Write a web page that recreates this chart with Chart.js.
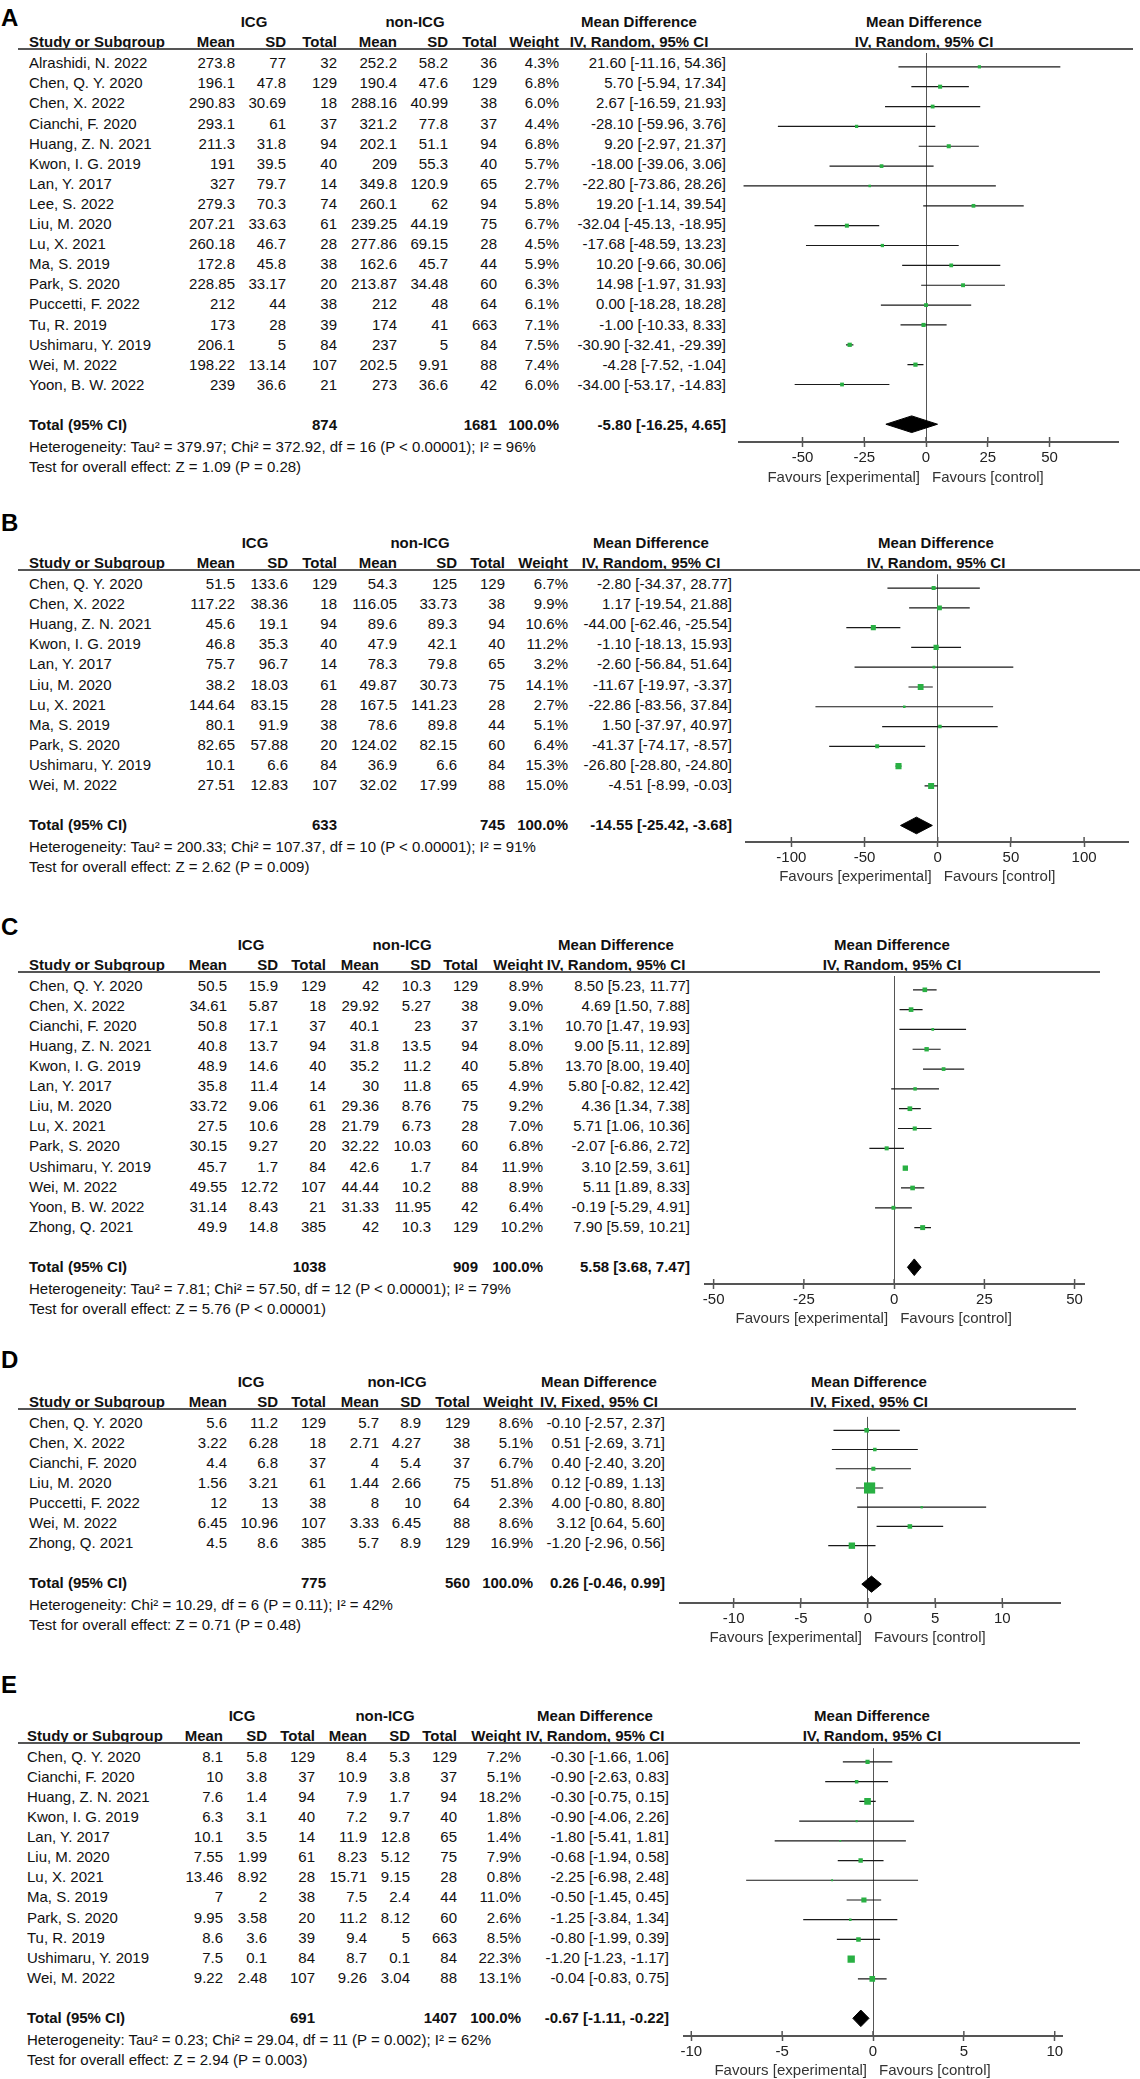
<!DOCTYPE html>
<html>
<head>
<meta charset="utf-8">
<title>ICG vs non-ICG forest plots</title>
<script src="https://cdn.jsdelivr.net/npm/chart.js@4.4.1/dist/chart.umd.min.js"></script>
<style>
  html, body { margin: 0; padding: 0; background: #fff; }
  body { position: relative; width: 1140px; height: 2079px; overflow: hidden;
         font-family: "Liberation Sans", Arial, sans-serif; color: #111; }
  .cell { position: absolute; white-space: nowrap; font-size: 15px; line-height: 18px; }
  .b { font-weight: bold; }
  .fav { color: #333; }
  .letter { position: absolute; left: 1px; font-size: 24px; font-weight: bold; line-height: 28px; color: #000; }
  .rule { position: absolute; height: 2px; background: #555; }
  canvas { position: absolute; }
</style>
</head>
<body>
<script>
// ---------- Panel A ----------
const studiesA = ['Alrashidi, N. 2022', 'Chen, Q. Y. 2020', 'Chen, X. 2022', 'Cianchi, F. 2020', 'Huang, Z. N. 2021',
  'Kwon, I. G. 2019', 'Lan, Y. 2017', 'Lee, S. 2022', 'Liu, M. 2020', 'Lu, X. 2021', 'Ma, S. 2019', 'Park, S. 2020',
  'Puccetti, F. 2022', 'Tu, R. 2019', 'Ushimaru, Y. 2019', 'Wei, M. 2022', 'Yoon, B. W. 2022'];
const icgMeanA = [273.8, 196.1, 290.83, 293.1, 211.3, 191, 327, 279.3, 207.21, 260.18, 172.8, 228.85, 212, 173, 206.1, 198.22, 239];
const icgSdA = [77, 47.8, 30.69, 61, 31.8, 39.5, 79.7, 70.3, 33.63, 46.7, 45.8, 33.17, 44, 28, 5, 13.14, 36.6];
const icgNA = [32, 129, 18, 37, 94, 40, 14, 74, 61, 28, 38, 20, 38, 39, 84, 107, 21];
const ctrlMeanA = [252.2, 190.4, 288.16, 321.2, 202.1, 209, 349.8, 260.1, 239.25, 277.86, 162.6, 213.87, 212, 174, 237, 202.5, 273];
const ctrlSdA = [58.2, 47.6, 40.99, 77.8, 51.1, 55.3, 120.9, 62, 44.19, 69.15, 45.7, 34.48, 48, 41, 5, 9.91, 36.6];
const ctrlNA = [36, 129, 38, 37, 94, 40, 65, 94, 75, 28, 44, 60, 64, 663, 84, 88, 42];
const weightA = [4.3, 6.8, 6.0, 4.4, 6.8, 5.7, 2.7, 5.8, 6.7, 4.5, 5.9, 6.3, 6.1, 7.1, 7.5, 7.4, 6.0];
const mdA = [21.60, 5.70, 2.67, -28.10, 9.20, -18.00, -22.80, 19.20, -32.04, -17.68, 10.20, 14.98, 0.00, -1.00, -30.90, -4.28, -34.00];
const lowerA = [-11.16, -5.94, -16.59, -59.96, -2.97, -39.06, -73.86, -1.14, -45.13, -48.59, -9.66, -1.97, -18.28, -10.33, -32.41, -7.52, -53.17];
const upperA = [54.36, 17.34, 21.93, 3.76, 21.37, 3.06, 28.26, 39.54, -18.95, 13.23, 30.06, 31.93, 18.28, 8.33, -29.39, -1.04, -14.83];
const totalsA = [874, 1681];
const pooledA = [-5.80, -16.25, 4.65];
const ticksA = [-50, -25, 0, 25, 50];
const hetA = 'Heterogeneity: Tau\u00b2 = 379.97; Chi\u00b2 = 372.92, df = 16 (P < 0.00001); I\u00b2 = 96%';
const testA = 'Test for overall effect: Z = 1.09 (P = 0.28)';

// ---------- Panel B ----------
const studiesB = ['Chen, Q. Y. 2020', 'Chen, X. 2022', 'Huang, Z. N. 2021', 'Kwon, I. G. 2019', 'Lan, Y. 2017', 'Liu, M. 2020',
  'Lu, X. 2021', 'Ma, S. 2019', 'Park, S. 2020', 'Ushimaru, Y. 2019', 'Wei, M. 2022'];
const icgMeanB = [51.5, 117.22, 45.6, 46.8, 75.7, 38.2, 144.64, 80.1, 82.65, 10.1, 27.51];
const icgSdB = [133.6, 38.36, 19.1, 35.3, 96.7, 18.03, 83.15, 91.9, 57.88, 6.6, 12.83];
const icgNB = [129, 18, 94, 40, 14, 61, 28, 38, 20, 84, 107];
const ctrlMeanB = [54.3, 116.05, 89.6, 47.9, 78.3, 49.87, 167.5, 78.6, 124.02, 36.9, 32.02];
const ctrlSdB = [125, 33.73, 89.3, 42.1, 79.8, 30.73, 141.23, 89.8, 82.15, 6.6, 17.99];
const ctrlNB = [129, 38, 94, 40, 65, 75, 28, 44, 60, 84, 88];
const weightB = [6.7, 9.9, 10.6, 11.2, 3.2, 14.1, 2.7, 5.1, 6.4, 15.3, 15.0];
const mdB = [-2.80, 1.17, -44.00, -1.10, -2.60, -11.67, -22.86, 1.50, -41.37, -26.80, -4.51];
const lowerB = [-34.37, -19.54, -62.46, -18.13, -56.84, -19.97, -83.56, -37.97, -74.17, -28.80, -8.99];
const upperB = [28.77, 21.88, -25.54, 15.93, 51.64, -3.37, 37.84, 40.97, -8.57, -24.80, -0.03];
const totalsB = [633, 745];
const pooledB = [-14.55, -25.42, -3.68];
const ticksB = [-100, -50, 0, 50, 100];
const hetB = 'Heterogeneity: Tau\u00b2 = 200.33; Chi\u00b2 = 107.37, df = 10 (P < 0.00001); I\u00b2 = 91%';
const testB = 'Test for overall effect: Z = 2.62 (P = 0.009)';

// ---------- Panel C ----------
const studiesC = ['Chen, Q. Y. 2020', 'Chen, X. 2022', 'Cianchi, F. 2020', 'Huang, Z. N. 2021', 'Kwon, I. G. 2019', 'Lan, Y. 2017',
  'Liu, M. 2020', 'Lu, X. 2021', 'Park, S. 2020', 'Ushimaru, Y. 2019', 'Wei, M. 2022', 'Yoon, B. W. 2022', 'Zhong, Q. 2021'];
const icgMeanC = [50.5, 34.61, 50.8, 40.8, 48.9, 35.8, 33.72, 27.5, 30.15, 45.7, 49.55, 31.14, 49.9];
const icgSdC = [15.9, 5.87, 17.1, 13.7, 14.6, 11.4, 9.06, 10.6, 9.27, 1.7, 12.72, 8.43, 14.8];
const icgNC = [129, 18, 37, 94, 40, 14, 61, 28, 20, 84, 107, 21, 385];
const ctrlMeanC = [42, 29.92, 40.1, 31.8, 35.2, 30, 29.36, 21.79, 32.22, 42.6, 44.44, 31.33, 42];
const ctrlSdC = [10.3, 5.27, 23, 13.5, 11.2, 11.8, 8.76, 6.73, 10.03, 1.7, 10.2, 11.95, 10.3];
const ctrlNC = [129, 38, 37, 94, 40, 65, 75, 28, 60, 84, 88, 42, 129];
const weightC = [8.9, 9.0, 3.1, 8.0, 5.8, 4.9, 9.2, 7.0, 6.8, 11.9, 8.9, 6.4, 10.2];
const mdC = [8.50, 4.69, 10.70, 9.00, 13.70, 5.80, 4.36, 5.71, -2.07, 3.10, 5.11, -0.19, 7.90];
const lowerC = [5.23, 1.50, 1.47, 5.11, 8.00, -0.82, 1.34, 1.06, -6.86, 2.59, 1.89, -5.29, 5.59];
const upperC = [11.77, 7.88, 19.93, 12.89, 19.40, 12.42, 7.38, 10.36, 2.72, 3.61, 8.33, 4.91, 10.21];
const totalsC = [1038, 909];
const pooledC = [5.58, 3.68, 7.47];
const ticksC = [-50, -25, 0, 25, 50];
const hetC = 'Heterogeneity: Tau\u00b2 = 7.81; Chi\u00b2 = 57.50, df = 12 (P < 0.00001); I\u00b2 = 79%';
const testC = 'Test for overall effect: Z = 5.76 (P < 0.00001)';

// ---------- Panel D ----------
const studiesD = ['Chen, Q. Y. 2020', 'Chen, X. 2022', 'Cianchi, F. 2020', 'Liu, M. 2020', 'Puccetti, F. 2022', 'Wei, M. 2022', 'Zhong, Q. 2021'];
const icgMeanD = [5.6, 3.22, 4.4, 1.56, 12, 6.45, 4.5];
const icgSdD = [11.2, 6.28, 6.8, 3.21, 13, 10.96, 8.6];
const icgND = [129, 18, 37, 61, 38, 107, 385];
const ctrlMeanD = [5.7, 2.71, 4, 1.44, 8, 3.33, 5.7];
const ctrlSdD = [8.9, 4.27, 5.4, 2.66, 10, 6.45, 8.9];
const ctrlND = [129, 38, 37, 75, 64, 88, 129];
const weightD = [8.6, 5.1, 6.7, 51.8, 2.3, 8.6, 16.9];
const mdD = [-0.10, 0.51, 0.40, 0.12, 4.00, 3.12, -1.20];
const lowerD = [-2.57, -2.69, -2.40, -0.89, -0.80, 0.64, -2.96];
const upperD = [2.37, 3.71, 3.20, 1.13, 8.80, 5.60, 0.56];
const totalsD = [775, 560];
const pooledD = [0.26, -0.46, 0.99];
const ticksD = [-10, -5, 0, 5, 10];
const hetD = 'Heterogeneity: Chi\u00b2 = 10.29, df = 6 (P = 0.11); I\u00b2 = 42%';
const testD = 'Test for overall effect: Z = 0.71 (P = 0.48)';

// ---------- Panel E ----------
const studiesE = ['Chen, Q. Y. 2020', 'Cianchi, F. 2020', 'Huang, Z. N. 2021', 'Kwon, I. G. 2019', 'Lan, Y. 2017', 'Liu, M. 2020',
  'Lu, X. 2021', 'Ma, S. 2019', 'Park, S. 2020', 'Tu, R. 2019', 'Ushimaru, Y. 2019', 'Wei, M. 2022'];
const icgMeanE = [8.1, 10, 7.6, 6.3, 10.1, 7.55, 13.46, 7, 9.95, 8.6, 7.5, 9.22];
const icgSdE = [5.8, 3.8, 1.4, 3.1, 3.5, 1.99, 8.92, 2, 3.58, 3.6, 0.1, 2.48];
const icgNE = [129, 37, 94, 40, 14, 61, 28, 38, 20, 39, 84, 107];
const ctrlMeanE = [8.4, 10.9, 7.9, 7.2, 11.9, 8.23, 15.71, 7.5, 11.2, 9.4, 8.7, 9.26];
const ctrlSdE = [5.3, 3.8, 1.7, 9.7, 12.8, 5.12, 9.15, 2.4, 8.12, 5, 0.1, 3.04];
const ctrlNE = [129, 37, 94, 40, 65, 75, 28, 44, 60, 663, 84, 88];
const weightE = [7.2, 5.1, 18.2, 1.8, 1.4, 7.9, 0.8, 11.0, 2.6, 8.5, 22.3, 13.1];
const mdE = [-0.30, -0.90, -0.30, -0.90, -1.80, -0.68, -2.25, -0.50, -1.25, -0.80, -1.20, -0.04];
const lowerE = [-1.66, -2.63, -0.75, -4.06, -5.41, -1.94, -6.98, -1.45, -3.84, -1.99, -1.23, -0.83];
const upperE = [1.06, 0.83, 0.15, 2.26, 1.81, 0.58, 2.48, 0.45, 1.34, 0.39, -1.17, 0.75];
const totalsE = [691, 1407];
const pooledE = [-0.67, -1.11, -0.22];
const ticksE = [-10, -5, 0, 5, 10];
const hetE = 'Heterogeneity: Tau\u00b2 = 0.23; Chi\u00b2 = 29.04, df = 11 (P = 0.002); I\u00b2 = 62%';
const testE = 'Test for overall effect: Z = 2.94 (P = 0.003)';

// ---------- layout (pixel geometry of each panel, not data) ----------
const STEP = 20.1;     // row pitch
const PADX = 30;       // canvas side padding
const AXIS_H = 28;     // room under the axis line for tick labels

const panels = [
  { letter: 'A', method: 'IV, Random, 95% CI', studies: studiesA, cells: [icgMeanA, icgSdA, icgNA, ctrlMeanA, ctrlSdA, ctrlNA],
    weight: weightA, md: mdA, lower: lowerA, upper: upperA, totals: totalsA, pooled: pooledA, ticks: ticksA, het: hetA, test: testA,
    geom: { letterY: 18, row0: 63.2, axisY: 443, left: 29, cols: [235, 286, 337, 397, 448, 497, 559, 726], icg: 254, ctrl: 415,
      md: 639, plot: 924, axisL: 739, axisR: 1118, min: -75.7, max: 77.7, ruleEnd: 1133 } },
  { letter: 'B', method: 'IV, Random, 95% CI', studies: studiesB, cells: [icgMeanB, icgSdB, icgNB, ctrlMeanB, ctrlSdB, ctrlNB],
    weight: weightB, md: mdB, lower: lowerB, upper: upperB, totals: totalsB, pooled: pooledB, ticks: ticksB, het: hetB, test: testB,
    geom: { letterY: 523, row0: 584, axisY: 842, left: 29, cols: [235, 288, 337, 397, 457, 505, 568, 732], icg: 255, ctrl: 420,
      md: 651, plot: 936, axisL: 746, axisR: 1128, min: -131, max: 130, ruleEnd: 1140 } },
  { letter: 'C', method: 'IV, Random, 95% CI', studies: studiesC, cells: [icgMeanC, icgSdC, icgNC, ctrlMeanC, ctrlSdC, ctrlNC],
    weight: weightC, md: mdC, lower: lowerC, upper: upperC, totals: totalsC, pooled: pooledC, ticks: ticksC, het: hetC, test: testC,
    geom: { letterY: 927, row0: 985.6, axisY: 1284, left: 29, cols: [227, 278, 326, 379, 431, 478, 543, 690], icg: 251, ctrl: 402,
      md: 616, plot: 892, axisL: 705, axisR: 1084, min: -52.4, max: 52.6, ruleEnd: 1100 } },
  { letter: 'D', method: 'IV, Fixed, 95% CI', studies: studiesD, cells: [icgMeanD, icgSdD, icgND, ctrlMeanD, ctrlSdD, ctrlND],
    weight: weightD, md: mdD, lower: lowerD, upper: upperD, totals: totalsD, pooled: pooledD, ticks: ticksD, het: hetD, test: testD,
    geom: { letterY: 1360, row0: 1422.5, axisY: 1603, left: 29, cols: [227, 278, 326, 379, 421, 470, 533, 665], icg: 251, ctrl: 397,
      md: 599, plot: 869, axisL: 680, axisR: 1060, min: -14.0, max: 14.3, ruleEnd: 1076 } },
  { letter: 'E', method: 'IV, Random, 95% CI', studies: studiesE, cells: [icgMeanE, icgSdE, icgNE, ctrlMeanE, ctrlSdE, ctrlNE],
    weight: weightE, md: mdE, lower: lowerE, upper: upperE, totals: totalsE, pooled: pooledE, ticks: ticksE, het: hetE, test: testE,
    geom: { letterY: 1685, row0: 1756.7, axisY: 2036, left: 27, cols: [223, 267, 315, 367, 410, 457, 521, 669], icg: 242, ctrl: 385,
      md: 595, plot: 872, axisL: 684, axisR: 1062, min: -10.4, max: 10.4, ruleEnd: 1080 } }
];

function addText(txt, x, y, align, cls) {
  const d = document.createElement('div');
  d.className = 'cell' + (cls ? ' ' + cls : '');
  d.textContent = txt;
  d.style.left = x + 'px';
  d.style.top = (y - 9) + 'px';
  if (align === 'right') d.style.transform = 'translateX(-100%)';
  else if (align === 'center') d.style.transform = 'translateX(-50%)';
  document.body.appendChild(d);
  return d;
}

function ciLabel(md, lo, hi) {
  return md.toFixed(2) + ' [' + lo.toFixed(2) + ', ' + hi.toFixed(2) + ']';
}

// small tick marks that poke up through the axis line, like RevMan draws them
const tickUp = {
  id: 'tickUp',
  afterDraw(chart) {
    const sc = chart.scales.x;
    const ctx = chart.ctx;
    const y = chart.chartArea.bottom;
    ctx.save();
    ctx.strokeStyle = '#555';
    ctx.lineWidth = 1.5;
    sc.ticks.forEach(t => {
      const px = sc.getPixelForValue(t.value);
      ctx.beginPath();
      ctx.moveTo(px, y - 5);
      ctx.lineTo(px, y);
      ctx.stroke();
    });
    ctx.restore();
  }
};

function drawPanel(p) {
  const g = p.geom;
  const n = p.studies.length;
  const h1 = g.row0 - 41, h2 = g.row0 - 21, ruleY = g.row0 - 14;
  const totalRow = n + 1;
  const totalY = g.row0 + totalRow * STEP;

  const L = document.createElement('div');
  L.className = 'letter';
  L.textContent = p.letter;
  L.style.top = (g.letterY - 14) + 'px';
  document.body.appendChild(L);

  // header
  addText('ICG', g.icg, h1, 'center', 'b');
  addText('non-ICG', g.ctrl, h1, 'center', 'b');
  addText('Mean Difference', g.md, h1, 'center', 'b');
  addText('Mean Difference', g.plot, h1, 'center', 'b');
  addText('Study or Subgroup', g.left, h2, 'left', 'b');
  ['Mean', 'SD', 'Total', 'Mean', 'SD', 'Total', 'Weight'].forEach((h, k) => addText(h, g.cols[k], h2, 'right', 'b'));
  addText(p.method, g.md, h2, 'center', 'b');
  addText(p.method, g.plot, h2, 'center', 'b');

  const r = document.createElement('div');
  r.className = 'rule';
  r.style.left = '18px';
  r.style.width = (g.ruleEnd - 18) + 'px';
  r.style.top = (ruleY - 1) + 'px';
  document.body.appendChild(r);

  // study rows
  p.studies.forEach((s, i) => {
    const y = g.row0 + i * STEP;
    addText(s, g.left, y, 'left');
    p.cells.forEach((col, k) => addText(String(col[i]), g.cols[k], y, 'right'));
    addText(p.weight[i].toFixed(1) + '%', g.cols[6], y, 'right');
    addText(ciLabel(p.md[i], p.lower[i], p.upper[i]), g.cols[7], y, 'right');
  });

  // total row and footers
  addText('Total (95% CI)', g.left, totalY, 'left', 'b');
  addText(String(p.totals[0]), g.cols[2], totalY, 'right', 'b');
  addText(String(p.totals[1]), g.cols[5], totalY, 'right', 'b');
  addText('100.0%', g.cols[6], totalY, 'right', 'b');
  addText(ciLabel(p.pooled[0], p.pooled[1], p.pooled[2]), g.cols[7], totalY, 'right', 'b');
  addText(p.het, g.left, totalY + 21.5, 'left');
  addText(p.test, g.left, totalY + 42, 'left');

  // forest plot
  const cv = document.createElement('canvas');
  const areaW = g.axisR - g.axisL;
  const areaH = g.axisY - ruleY;
  cv.width = areaW + 2 * PADX;
  cv.height = areaH + AXIS_H;
  cv.style.width = cv.width + 'px';
  cv.style.height = cv.height + 'px';
  cv.style.left = (g.axisL - PADX) + 'px';
  cv.style.top = ruleY + 'px';
  document.body.appendChild(cv);

  const ciData = [];
  p.lower.forEach((lo, i) => {
    ciData.push({ x: lo, y: i }, { x: p.upper[i], y: i }, { x: null, y: null });
  });
  const sqData = p.md.map((m, i) => ({ x: m, y: i }));
  const dh = 0.42; // diamond half height in rows
  const [pm, plo, phi] = p.pooled;
  const diamond = [
    { x: plo, y: totalRow }, { x: pm, y: totalRow - dh }, { x: phi, y: totalRow },
    { x: pm, y: totalRow + dh }, { x: plo, y: totalRow }
  ];

  const chart = new Chart(cv, {
    type: 'line',
    data: {
      datasets: [
        { data: ciData, borderColor: '#1a1a1a', borderWidth: 1.2, pointRadius: 0, spanGaps: false, order: 3 },
        { type: 'scatter', data: sqData, pointStyle: 'rect', backgroundColor: '#29b043', borderWidth: 0,
          pointRadius: p.weight.map(w => Math.max(1.3, 1.55 * Math.sqrt(w) / Math.SQRT2)), order: 1 },
        { data: diamond, borderColor: '#000', backgroundColor: '#000', borderWidth: 1, pointRadius: 0,
          fill: 'shape', tension: 0, order: 2 }
      ]
    },
    options: {
      responsive: false,
      animation: false,
      events: [],
      layout: { padding: { left: PADX, right: PADX, top: 0, bottom: 0 } },
      plugins: { legend: { display: false }, tooltip: { enabled: false } },
      scales: {
        x: {
          type: 'linear', min: g.min, max: g.max,
          afterBuildTicks: sc => { sc.ticks = p.ticks.map(v => ({ value: v })); },
          afterFit: sc => { sc.height = AXIS_H; },
          grid: {
            color: c => (c.tick && c.tick.value === 0) ? '#555' : 'rgba(0,0,0,0)',
            lineWidth: 1, drawTicks: true, tickLength: 5, tickColor: '#555', tickWidth: 1.5
          },
          border: { display: true, color: '#555', width: 2 },
          ticks: { color: '#222', font: { family: 'Liberation Sans', size: 15 }, padding: 2,
            maxRotation: 0, autoSkip: false, callback: v => String(v) }
        },
        y: { type: 'linear', display: false, reverse: true,
          min: (ruleY - g.row0) / STEP, max: (g.axisY - g.row0) / STEP }
      }
    },
    plugins: [tickUp]
  });

  const zx = g.axisL - PADX + chart.scales.x.getPixelForValue(0);
  addText('Favours [experimental]', zx - 6, g.axisY + 34, 'right', 'fav');
  addText('Favours [control]', zx + 6, g.axisY + 34, 'left', 'fav');
}

panels.forEach(drawPanel);
</script>
</body>
</html>
